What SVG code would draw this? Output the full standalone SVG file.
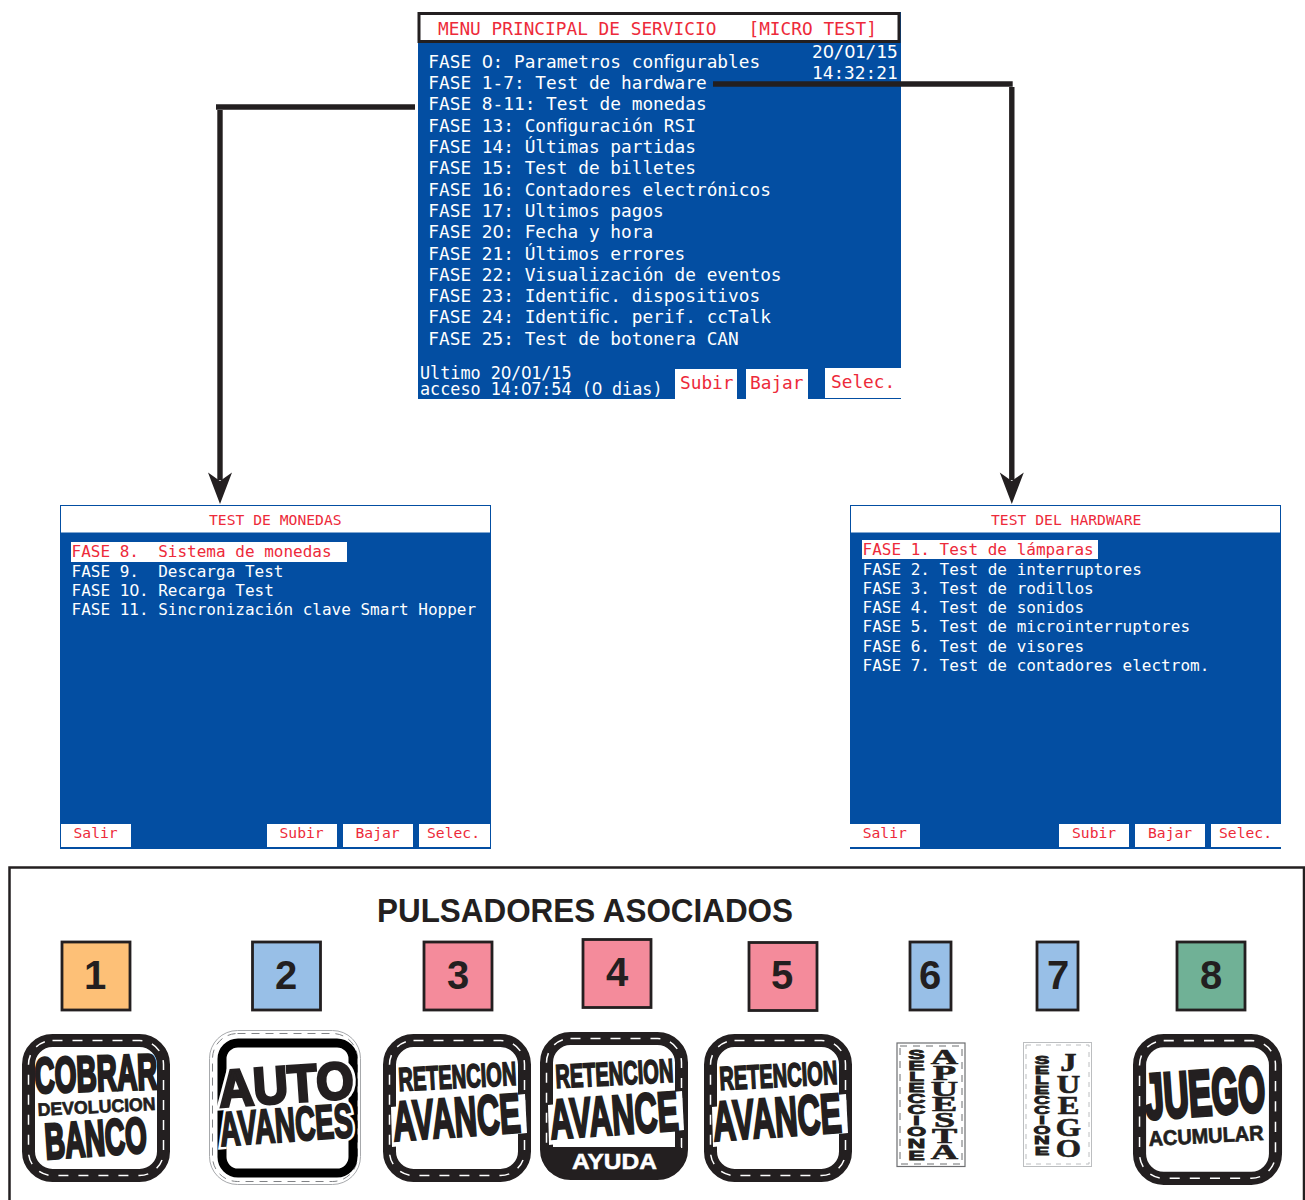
<svg xmlns="http://www.w3.org/2000/svg" width="1305" height="1200" viewBox="0 0 1305 1200">
<style>
text{white-space:pre}
.m{font-family:"DejaVu Sans Mono","Liberation Mono",monospace}
.t{font-size:17.8px;fill:#fff}
.u{font-size:16.8px;fill:#fff}
.s{font-size:16px;fill:#fff}
.h{font-size:14.7px;fill:#ed2a3a}
.r{fill:#ed2a3a}
.z{font-family:"DejaVu Sans",sans-serif;letter-spacing:-.034em}
.f{font-family:"DejaVu Sans",sans-serif;letter-spacing:-.014em}
.bl{fill:#034ea2}
.wh{fill:#fff}
.sq{stroke:#231f20;stroke-width:2.800}
.n{font-family:"Liberation Sans",Arial,sans-serif;font-weight:700;font-size:40px;fill:#231f20;text-anchor:middle}
.k{font-family:"Liberation Sans",Arial,sans-serif;font-weight:700;fill:#231f20;stroke:#231f20}
.kn{font-family:"Liberation Sans",Arial,sans-serif;font-weight:700;fill:#231f20;stroke:#231f20;text-anchor:middle}
.sf{font-family:"Liberation Serif",serif;font-weight:700;fill:#231f20;stroke:#231f20;text-anchor:middle}
.ws{fill:#fff;stroke:none}
.ha{fill:#fff;stroke:#fff}
.cn{fill:none;stroke:#231f20;stroke-width:5.400}
</style>
<defs>
<g id="fr">
<rect x="6.500" y="6.500" width="135" height="135" rx="24" fill="#fff" stroke="#231f20" stroke-width="13"/>
<rect x="6.500" y="6.500" width="135" height="135" rx="24" fill="none" stroke="#fff" stroke-width="1.500" stroke-dasharray="10 10"/>
</g>
<path id="ah" d="M-12 -31.500L0 -23L12 -31.500L0 0Z" fill="#231f20"/>
</defs>

<g id="panel-main">
<rect x="418" y="12" width="483" height="387" class="bl"/>
<rect x="419" y="13.500" width="480" height="28" fill="#fff" stroke="#231f20" stroke-width="3"/>
<text class="m t r" x="438" y="34.800">MENU PRINCIPAL DE SERVICIO   [MICRO TEST]</text>
<text class="m t" x="812" y="58.300">2<tspan class="z">0</tspan>/<tspan class="z">0</tspan>1/15</text>
<text class="m t" x="812" y="79">14:32:21</text>
<text class="m t" x="428.300" y="67.700">FASE <tspan class="z">0</tspan>: Parametros con<tspan class="f">fi</tspan>gurables</text>
<text class="m t" x="428.300" y="89">FASE 1-7: Test de hardware</text>
<text class="m t" x="428.300" y="110">FASE 8-11: Test de monedas</text>
<text class="m t" x="428.300" y="131.700">FASE 13: Con<tspan class="f">fi</tspan>guración RSI</text>
<text class="m t" x="428.300" y="152.700">FASE 14: Últimas partidas</text>
<text class="m t" x="428.300" y="173.700">FASE 15: Test de billetes</text>
<text class="m t" x="428.300" y="195.700">FASE 16: Contadores electrónicos</text>
<text class="m t" x="428.300" y="216.700">FASE 17: Ultimos pagos</text>
<text class="m t" x="428.300" y="237.700">FASE 2<tspan class="z">0</tspan>: Fecha y hora</text>
<text class="m t" x="428.300" y="260">FASE 21: Últimos errores</text>
<text class="m t" x="428.300" y="281">FASE 22: Visualización de eventos</text>
<text class="m t" x="428.300" y="301.700">FASE 23: Identi<tspan class="f">fi</tspan>c. dispositivos</text>
<text class="m t" x="428.300" y="323.300">FASE 24: Identi<tspan class="f">fi</tspan>c. perif. ccTalk</text>
<text class="m t" x="428.300" y="345">FASE 25: Test de botonera CAN</text>
<text class="m u" x="420" y="379">Ultimo 2<tspan class="z">0</tspan>/<tspan class="z">0</tspan>1/15</text>
<text class="m u" x="420" y="394.500">acceso 14:<tspan class="z">0</tspan>7:54 (<tspan class="z">0</tspan> dias)</text>
<rect x="675" y="369" width="62" height="30" class="wh"/>
<rect x="746" y="369" width="62" height="30" class="wh"/>
<rect x="825" y="368" width="76" height="30" class="wh"/>
<text class="m t r" x="680" y="389.300">Subir</text>
<text class="m t r" x="750" y="389.300">Bajar</text>
<text class="m t r" x="831" y="388">Selec.</text>
</g>

<g id="panel-monedas">
<rect x="60.500" y="505.500" width="430" height="343" class="bl" stroke="#034ea2"/>
<rect x="61" y="506" width="429" height="26.500" class="wh"/>
<text class="m h" x="209" y="525.200">TEST DE MONEDAS</text>
<rect x="71" y="542" width="276" height="20" class="wh"/>
<text class="m s r" x="71.500" y="557">FASE 8.  Sistema de monedas</text>
<text class="m s" x="71.500" y="576.700">FASE 9.  Descarga Test</text>
<text class="m s" x="71.500" y="596.300">FASE 1<tspan class="z">0</tspan>. Recarga Test</text>
<text class="m s" x="71.500" y="615.200">FASE 11. Sincronización clave Smart Hopper</text>
<rect x="61" y="824" width="70" height="23" class="wh"/>
<rect x="267" y="824" width="70" height="23" class="wh"/>
<rect x="343" y="824" width="70" height="23" class="wh"/>
<rect x="419" y="824" width="71" height="23" class="wh"/>
<text class="m h" x="73.500" y="838.300">Salir</text>
<text class="m h" x="279.500" y="838.300">Subir</text>
<text class="m h" x="355.500" y="838.300">Bajar</text>
<text class="m h" x="427" y="838.300">Selec.</text>
</g>

<g id="panel-hardware">
<rect x="850.500" y="505.500" width="430" height="343" class="bl" stroke="#034ea2"/>
<rect x="851" y="506" width="429" height="26.500" class="wh"/>
<text class="m h" x="991" y="525.200">TEST DEL HARDWARE</text>
<rect x="862" y="540" width="236" height="19" class="wh"/>
<text class="m s r" x="862.500" y="555">FASE 1. Test de lámparas</text>
<text class="m s" x="862.500" y="575">FASE 2. Test de interruptores</text>
<text class="m s" x="862.500" y="594">FASE 3. Test de rodillos</text>
<text class="m s" x="862.500" y="613">FASE 4. Test de sonidos</text>
<text class="m s" x="862.500" y="632">FASE 5. Test de microinterruptores</text>
<text class="m s" x="862.500" y="652">FASE 6. Test de visores</text>
<text class="m s" x="862.500" y="671">FASE 7. Test de contadores electrom.</text>
<rect x="850" y="824" width="70" height="23" class="wh"/>
<rect x="1059" y="824" width="70" height="23" class="wh"/>
<rect x="1135" y="824" width="70" height="23" class="wh"/>
<rect x="1211" y="824" width="70" height="23" class="wh"/>
<text class="m h" x="862.700" y="838.300">Salir</text>
<text class="m h" x="1072" y="838.300">Subir</text>
<text class="m h" x="1148" y="838.300">Bajar</text>
<text class="m h" x="1219" y="838.300">Selec.</text>
</g>

<g id="connectors">
<path class="cn" d="M415 107H216"/>
<path class="cn" d="M220 110V480"/>
<path class="cn" d="M713 84H1012.700"/>
<path class="cn" d="M1011.800 87V480"/>
<use href="#ah" x="220" y="504"/>
<use href="#ah" x="1011.800" y="504"/>
</g>

<g id="pulsadores">
<path d="M9.500 1200V867.500H1304V1200" fill="none" stroke="#231f20" stroke-width="2.500"/>
<text x="377" y="922" font-family="Liberation Sans, Arial, sans-serif" font-weight="700" font-size="33" fill="#231f20" textLength="416" lengthAdjust="spacingAndGlyphs">PULSADORES ASOCIADOS</text>
</g>

<g id="key-1"><rect class="sq" x="62" y="942" width="68" height="68" fill="#fdc077"/><text class="n" x="95" y="989">1</text></g>
<g id="key-2"><rect class="sq" x="252.500" y="942" width="68" height="68" fill="#98bfe7"/><text class="n" x="286" y="989">2</text></g>
<g id="key-3"><rect class="sq" x="424" y="942" width="68" height="68" fill="#f48b9b"/><text class="n" x="458" y="989">3</text></g>
<g id="key-4"><rect class="sq" x="583" y="939.500" width="68" height="68" fill="#f48b9b"/><text class="n" x="617" y="986">4</text></g>
<g id="key-5"><rect class="sq" x="749" y="942.500" width="68" height="68" fill="#f48b9b"/><text class="n" x="782" y="989">5</text></g>
<g id="key-6"><rect class="sq" x="910" y="942" width="41" height="68" fill="#98bfe7"/><text class="n" x="930" y="989">6</text></g>
<g id="key-7"><rect class="sq" x="1037" y="942" width="41" height="68" fill="#98bfe7"/><text class="n" x="1058" y="989">7</text></g>
<g id="key-8"><rect class="sq" x="1177" y="942" width="68" height="68" fill="#70b196"/><text class="n" x="1211" y="989">8</text></g>

<g id="btn-1">
<use href="#fr" x="22" y="1034"/>
<text class="k" stroke-width="3" font-size="50" transform="translate(35 1093) rotate(-2)" textLength="123" lengthAdjust="spacingAndGlyphs">COBRAR</text>
<text class="k" stroke-width=".7" font-size="18" transform="translate(38 1116) rotate(-3)" textLength="118" lengthAdjust="spacingAndGlyphs">DEVOLUCION</text>
<text class="k" stroke-width="3" font-size="50" transform="translate(46 1159) rotate(-4)" textLength="102" lengthAdjust="spacingAndGlyphs">BANCO</text>
</g>

<g id="btn-2">
<rect x="209.500" y="1030.500" width="151" height="154" rx="28" fill="#fff" stroke="#a7a9ac"/>
<rect x="212.500" y="1033.500" width="145" height="148" rx="25" fill="none" stroke="#808285" stroke-dasharray="8 6"/>
<rect x="222" y="1043" width="131" height="130" rx="16" fill="#fff" stroke="#000" stroke-width="9"/>
<text class="ha" stroke-width="7" font-size="52" transform="translate(219 1107) rotate(-4)" style="font-family:'Liberation Sans',sans-serif;font-weight:700" textLength="137" lengthAdjust="spacingAndGlyphs">AUTO</text>
<text class="ha" stroke-width="7" font-size="48" transform="translate(220 1146) rotate(-4)" style="font-family:'Liberation Sans',sans-serif;font-weight:700" textLength="135" lengthAdjust="spacingAndGlyphs">AVANCES</text>
<text class="k" stroke-width="3" font-size="52" transform="translate(220 1107) rotate(-4)" textLength="135" lengthAdjust="spacingAndGlyphs">AUTO</text>
<text class="k" stroke-width="2.200" font-size="48" transform="translate(221 1146) rotate(-4)" textLength="133" lengthAdjust="spacingAndGlyphs">AVANCES</text>
</g>

<g id="btn-3">
<use href="#fr" x="383" y="1034"/>
<path d="M391 1107L525 1094L527 1133L392 1147Z" class="ws"/>
<text class="k" stroke-width="1.700" font-size="33" transform="translate(399 1091) rotate(-3)" textLength="118" lengthAdjust="spacingAndGlyphs">RETENCION</text>
<text class="k" stroke-width="2.500" font-size="56" transform="translate(394 1141) rotate(-4)" textLength="128" lengthAdjust="spacingAndGlyphs">AVANCE</text>
</g>

<g id="btn-4">
<use href="#fr" x="540" y="1032"/>
<path d="M546 1147H681V1165Q681 1175 660 1175H566Q546 1175 546 1165Z" fill="#231f20"/>
<path d="M548 1105L682 1091L684 1130L549 1145Z" class="ws"/>
<text class="k" stroke-width="1.700" font-size="33" transform="translate(556 1088) rotate(-3)" textLength="118" lengthAdjust="spacingAndGlyphs">RETENCION</text>
<text class="k" stroke-width="2.500" font-size="56" transform="translate(551 1139) rotate(-4)" textLength="129" lengthAdjust="spacingAndGlyphs">AVANCE</text>
<text font-family="Liberation Sans, Arial, sans-serif" font-weight="700" font-size="22" fill="#fff" stroke="#fff" stroke-width=".5" x="572" y="1169" textLength="85" lengthAdjust="spacingAndGlyphs">AYUDA</text>
</g>

<g id="btn-5">
<use href="#fr" x="704" y="1034"/>
<path d="M712 1107L846 1094L848 1133L713 1147Z" class="ws"/>
<text class="k" stroke-width="1.700" font-size="33" transform="translate(720 1090) rotate(-3)" textLength="118" lengthAdjust="spacingAndGlyphs">RETENCION</text>
<text class="k" stroke-width="2.500" font-size="56" transform="translate(714 1141) rotate(-4)" textLength="129" lengthAdjust="spacingAndGlyphs">AVANCE</text>
</g>

<g id="btn-6">
<rect x="897" y="1043" width="68" height="123.500" fill="#fff" stroke="#6d6e71" stroke-width="1.200"/>
<rect x="900" y="1046" width="62" height="118" fill="none" stroke="#6d6e71" stroke-dasharray="7 6"/>
<text class="kn" stroke-width=".8" font-size="13" transform="translate(916.500 0) scale(1.900 1)" x="0 0 0 0 0 0 0 0 0 0" y="1059 1070 1081 1092 1103 1114 1125 1136 1148 1160">SELECCIONE</text>
<text class="sf" stroke-width=".6" font-size="21" transform="translate(944.500 0) scale(1.800 1)" x="0 0 0 0 0 0 0" y="1064 1080 1096 1111 1127 1143 1159">APUESTA</text>
</g>

<g id="btn-7">
<rect x="1023.500" y="1042.500" width="68" height="124" fill="#fff" stroke="#bcbec0"/>
<rect x="1026" y="1045" width="63" height="119" fill="none" stroke="#bcbec0" stroke-dasharray="5 5"/>
<text class="kn" stroke-width=".8" font-size="11.500" transform="translate(1042 0) scale(1.900 1)" x="0 0 0 0 0 0 0 0 0 0" y="1064 1074 1084 1094 1104 1114 1124 1134 1144 1155">SELECCIONE</text>
<text class="sf" stroke-width=".6" font-size="25" transform="translate(1068.500 0) scale(1.300 1)" x="0 0 0 0 0" y="1071 1093 1114 1136 1157">JUEGO</text>
</g>

<g id="btn-8">
<use href="#fr" transform="translate(1133 1034) scale(1.007 1.020)"/>
<text class="k" stroke-width="4" font-size="64" transform="translate(1146 1119) rotate(-4) scale(.54 1)">JUEGO</text>
<text class="k" stroke-width=".7" font-size="21" transform="translate(1149 1146) rotate(-3)" textLength="115" lengthAdjust="spacingAndGlyphs">ACUMULAR</text>
</g>
</svg>
